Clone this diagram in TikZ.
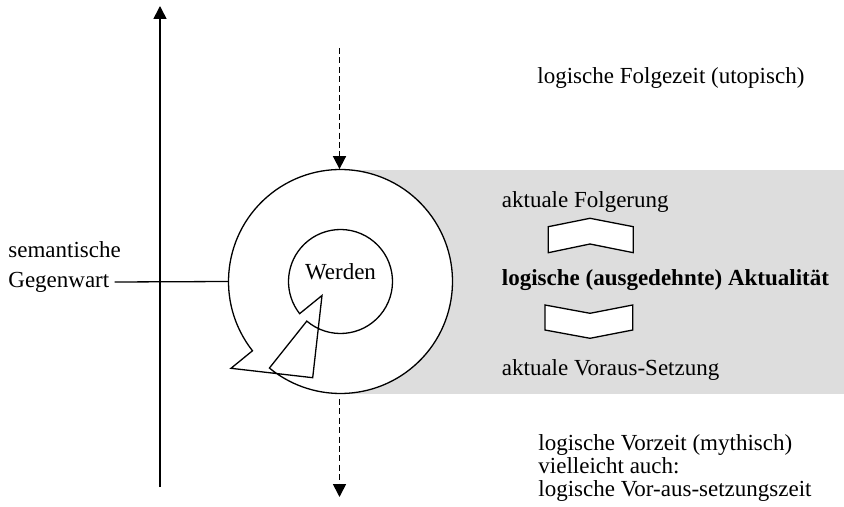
\documentclass[tikz,border=0pt]{standalone}
\usepackage{fontspec}
\setmainfont{Liberation Serif}
\usetikzlibrary{arrows.meta,calc}
\begin{document}
\begin{tikzpicture}[x=0.5pt,y=-0.5pt,
  font=\fontsize{11.5}{11.6}\selectfont,
  txt/.style={inner sep=0pt, anchor=west},
  ln/.style={line width=0.65pt},
  tip/.style={-{Triangle[width=6.5pt,length=6.5pt]}},
  dsh/.style={line width=0.85pt, dash pattern=on 3pt off 1.7pt},
  chev/.style={ln, fill=white, line join=miter}]
\useasboundingbox (0,0) rectangle (844,507);
% gray background
\fill[gray!27] (340.5,170) rectangle (844,394);
% white disk
\node[circle, minimum size=112pt, inner sep=0pt, fill=white] (ring) at (340.5,281.5) {};
\coordinate (c) at (340.5,281.5);
% ring arrow
\draw[ln, line join=miter]
  ($(c)+(141.8:112)$) arc[start angle=141.8, end angle=489.4, radius=112]
  -- ($(c)+(130.4:52)$) arc[start angle=130.4, end angle=-218.2, radius=52]
  -- (322,295.5) -- (312.7,377.7) -- (231,368.3) -- cycle;
\node[inner sep=0pt] (werden) at (340.5,271.5) {Werden};
% vertical axis
\coordinate (axbot) at (160,487);
\coordinate (axtop) at (160,6);
\draw[line width=0.8pt, tip] (axbot) -- (axtop);
% dashed arrows
\coordinate (dtop) at (339.5,48);
\coordinate (dbot) at (339.5,497);
\draw[dsh, tip] (dtop) -- (ring.north -| dtop);
\draw[dsh, tip] ([yshift=-2.5pt]ring.south -| dbot) -- (dbot);
% left labels
\node[txt] (sem) at (8,250) {semantische};
\node[txt] (gw) at (8,282) {Gegenwart};
\draw[ln] ([xshift=2.5pt]gw.east) -- (ring.west);
% right texts
\node[txt] (folgezeit) at (537,78) {logische Folgezeit (utopisch)};
\node[txt] (folgerung) at (501.5,202) {aktuale Folgerung};
\node[txt, font=\fontsize{11.5}{11.6}\selectfont\bfseries] (aktual) at (501.5,280) {logische (ausgedehnte) Aktualität};
\node[txt] (voraus) at (501.5,370) {aktuale Voraus-Setzung};
\node[txt, align=left] (vorzeit) at (538,468) {logische Vorzeit (mythisch)\\vielleicht auch:\\logische Vor-aus-setzungszeit};
% chevrons
\draw[chev] (548.3,226.7) -- (590,218.3) -- (633.3,226.7) -- (633.3,252.7) -- (590,244) -- (548.3,252.7) -- cycle;
\draw[chev] (545,305) -- (590,313.3) -- (632.7,305) -- (632.7,330) -- (590,338.3) -- (545,330) -- cycle;
\end{tikzpicture}
\end{document}
